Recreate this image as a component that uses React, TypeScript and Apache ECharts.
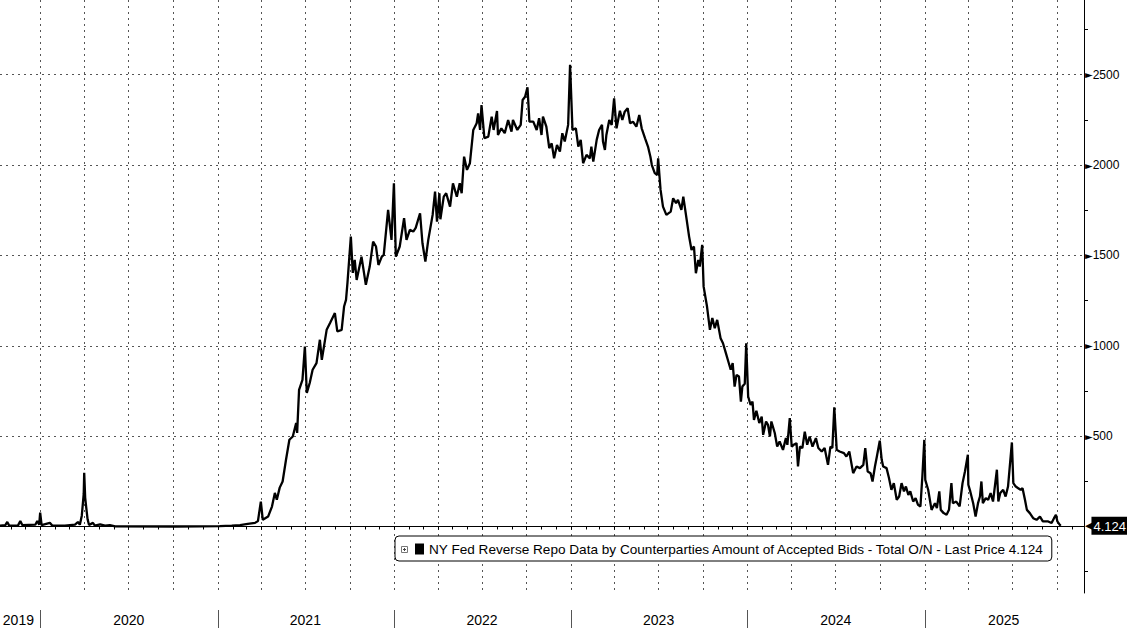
import React, { useEffect, useRef } from "react";
import * as echarts from "echarts";

const SERIES_NAME =
  "NY Fed Reverse Repo Data by Counterparties Amount of Accepted Bids - Total O/N - Last Price 4.124";
const LAST_PRICE = 4.124;

const rrpDates: string[] = [
  "2019-10-09","2019-10-20","2019-10-24","2019-10-28","2019-11-15","2019-11-20","2019-11-24","2019-12-21","2019-12-25","2019-12-29","2019-12-31",
  "2020-01-03","2020-01-20","2020-01-25","2020-02-20","2020-03-12","2020-03-18","2020-03-22","2020-03-26","2020-03-30","2020-03-31",
  "2020-04-02","2020-04-04","2020-04-07","2020-04-10","2020-04-18","2020-04-22","2020-05-03","2020-05-13","2020-05-23","2020-06-03",
  "2020-10-05","2020-11-25","2021-01-05","2021-01-30","2021-02-16","2021-03-04","2021-03-19","2021-03-25","2021-03-31",
  "2021-04-04","2021-04-15","2021-04-23","2021-04-29","2021-05-03","2021-05-09","2021-05-15","2021-05-22","2021-05-29",
  "2021-06-05","2021-06-12","2021-06-14","2021-06-18","2021-06-25","2021-06-30","2021-07-04","2021-07-10","2021-07-16","2021-07-24","2021-07-31",
  "2021-08-04","2021-08-14","2021-08-21","2021-08-31","2021-09-05","2021-09-14","2021-09-19","2021-09-23","2021-09-26",
  "2021-10-03","2021-10-07","2021-10-11","2021-10-15","2021-10-25","2021-11-03","2021-11-11","2021-11-18","2021-11-24","2021-11-29",
  "2021-12-06","2021-12-10","2021-12-19","2021-12-26","2021-12-31",
  "2022-01-04","2022-01-12","2022-01-21","2022-01-26","2022-02-02","2022-02-09","2022-02-14","2022-02-23","2022-02-28",
  "2022-03-06","2022-03-12","2022-03-21","2022-03-26","2022-03-30","2022-04-04","2022-04-06","2022-04-13","2022-04-18","2022-04-26",
  "2022-05-02","2022-05-10","2022-05-16","2022-05-20","2022-05-25","2022-05-31","2022-06-06","2022-06-13","2022-06-20","2022-06-23","2022-06-27","2022-06-30",
  "2022-07-06","2022-07-14","2022-07-21","2022-07-25","2022-08-01","2022-08-03","2022-08-10","2022-08-17","2022-08-24","2022-08-31",
  "2022-09-03","2022-09-12","2022-09-19","2022-09-23","2022-09-28","2022-10-03","2022-10-07","2022-10-15","2022-10-22","2022-10-27",
  "2022-11-01","2022-11-04","2022-11-11","2022-11-17","2022-11-22","2022-11-27","2022-12-03","2022-12-09","2022-12-14","2022-12-19","2022-12-26","2022-12-30",
  "2023-01-04","2023-01-11","2023-01-16","2023-01-21","2023-01-26","2023-02-02","2023-02-09","2023-02-12","2023-02-16","2023-02-23","2023-02-28",
  "2023-03-06","2023-03-08","2023-03-12","2023-03-15","2023-03-21","2023-03-26","2023-03-31","2023-04-05","2023-04-12","2023-04-17","2023-04-22","2023-04-28",
  "2023-05-03","2023-05-09","2023-05-16","2023-05-22","2023-05-27","2023-06-03","2023-06-09","2023-06-14","2023-06-17","2023-06-23","2023-06-28","2023-06-30",
  "2023-07-05","2023-07-10","2023-07-17","2023-07-26","2023-07-31","2023-08-06","2023-08-10","2023-08-17","2023-08-21","2023-08-28",
  "2023-09-02","2023-09-07","2023-09-12","2023-09-16","2023-09-21","2023-09-24","2023-09-29","2023-10-02","2023-10-09","2023-10-15","2023-10-20","2023-10-25","2023-10-30",
  "2023-11-06","2023-11-11","2023-11-17","2023-11-22","2023-11-27","2023-12-01","2023-12-05","2023-12-09","2023-12-14","2023-12-18","2023-12-21","2023-12-26","2023-12-29",
  "2024-01-02","2024-01-07","2024-01-11","2024-01-14","2024-01-19","2024-01-25","2024-01-30","2024-02-02","2024-02-08","2024-02-12","2024-02-16","2024-02-19","2024-02-26",
  "2024-03-02","2024-03-07","2024-03-14","2024-03-20","2024-03-23","2024-03-28","2024-04-01","2024-04-05","2024-04-11","2024-04-14","2024-04-18","2024-04-23","2024-04-28",
  "2024-05-03","2024-05-08","2024-05-14","2024-05-21","2024-05-26","2024-06-02","2024-06-08","2024-06-15","2024-06-20","2024-06-24","2024-06-28",
  "2024-07-03","2024-07-09","2024-07-18","2024-07-23","2024-07-29","2024-08-06","2024-08-13","2024-08-20","2024-08-27","2024-08-31",
  "2024-09-05","2024-09-11","2024-09-15","2024-09-20","2024-09-24","2024-09-30","2024-10-04","2024-10-07","2024-10-14","2024-10-19","2024-10-24","2024-10-29",
  "2024-11-04","2024-11-09","2024-11-14","2024-11-19","2024-11-23","2024-11-28","2024-12-02","2024-12-08","2024-12-13","2024-12-18","2024-12-23","2024-12-27","2024-12-31",
  "2025-01-02","2025-01-08","2025-01-15","2025-01-22","2025-01-26","2025-01-31","2025-02-03","2025-02-09","2025-02-15","2025-02-20","2025-02-25","2025-02-28",
  "2025-03-07","2025-03-14","2025-03-20","2025-03-25","2025-03-31","2025-04-01","2025-04-05","2025-04-11","2025-04-16","2025-04-21","2025-04-25","2025-04-28",
  "2025-05-01","2025-05-07","2025-05-12","2025-05-17","2025-05-22","2025-05-30","2025-06-02","2025-06-06","2025-06-12","2025-06-17","2025-06-22","2025-06-30",
  "2025-07-03","2025-07-08","2025-07-13","2025-07-18","2025-07-22","2025-07-27","2025-07-31","2025-08-06","2025-08-13","2025-08-20","2025-08-27",
  "2025-09-02","2025-09-13","2025-09-20","2025-09-25","2025-09-29","2025-10-02","2025-10-07","2025-10-09",
];

const rrpValues: number[] = [
  5,8,25,5,5,30,8,10,30,10,77,
  8,20,5,5,10,25,10,60,180,297,
  160,110,40,8,20,5,12,5,8,1,
  0,1,2,5,8,15,20,30,138,
  37,55,110,186,148,215,249,369,480,
  498,573,518,756,811,996,739,794,867,904,1033,
  922,1088,1126,1181,1079,1088,1217,1254,1348,
  1604,1403,1475,1364,1493,1337,1438,1576,1549,1447,
  1493,1503,1752,1586,1899,
  1493,1549,1706,1586,1641,1632,1652,1733,1567,
  1466,1586,1724,1853,1687,1844,1700,1825,1844,1770,
  1899,1825,1899,1844,2046,1973,2010,2194,2231,2286,2194,2332,
  2148,2157,2268,2194,2299,2166,2203,2176,2249,2185,
  2249,2194,2222,2360,2378,2430,2240,2240,2194,2259,
  2166,2268,2212,2093,2120,2037,2111,2074,2176,2130,2222,2554,
  2194,2203,2102,2139,2010,2056,2037,2102,2019,2139,2194,
  2222,2130,2083,2166,2249,2222,2369,2203,2300,2249,2295,2314,
  2231,2240,2212,2277,2203,2148,2102,2046,2000,1955,1945,2037,
  1862,1770,1724,1742,1816,1789,1807,1752,1825,1696,
  1604,1530,1549,1401,1475,1438,1558,1327,1217,1088,1153,1097,1143,
  1042,1014,959,913,867,904,774,839,830,691,774,790,1014,
  719,673,691,590,640,572,608,507,581,562,498,581,517,
  442,470,424,489,452,600,442,452,461,332,442,434,525,
  452,498,442,489,434,415,434,341,442,434,660,
  424,415,406,387,415,295,332,323,341,434,
  304,295,249,332,387,475,369,332,323,268,203,240,
  148,166,240,194,221,175,194,138,157,120,111,277,479,
  258,203,92,129,102,194,92,74,65,92,240,129,
  138,111,240,304,397,231,194,129,55,129,166,249,
  129,157,148,185,138,314,138,185,203,166,221,465,
  240,221,212,203,212,148,92,74,46,37,55,
  28,28,19,46,65,28,9,4.124,
];

const X_MIN = "2019-10-09";
const X_MAX = "2025-11-26";
const Y_MIN = -368;
const Y_MAX = 2913;

const yGridValues = [0, 500, 1000, 1500, 2000, 2500];
const yLabelValues = [500, 1000, 1500, 2000, 2500];
const yMinorValues = [-250, 250, 750, 1250, 1750, 2250, 2750];

const yearStarts = ["2020-01-01", "2021-01-01", "2022-01-01", "2023-01-01", "2024-01-01", "2025-01-01"];
const yearLabelDates = ["2019-11-16", "2020-07-01", "2021-07-01", "2022-07-01", "2023-07-01", "2024-07-01", "2025-06-13"];

const ts = (s: string) => Date.parse(s + "T00:00:00Z");
const pad = (n: number) => (n < 10 ? "0" + n : "" + n);
const monthStarts: string[] = [];
const quarterStarts: string[] = [];
for (let y = 2019; y <= 2025; y++) {
  for (let m = 1; m <= 12; m++) {
    const s = `${y}-${pad(m)}-01`;
    if (s < X_MIN || s > X_MAX) continue;
    monthStarts.push(s);
    if ((m - 1) % 3 === 0) quarterStarts.push(s);
  }
}

const TEXTFONT = "'Liberation Sans', Arial, sans-serif";
const GRID_LINE = { type: [2, 4] as any, color: "#555", width: 1 };

export default function App() {
  const ref = useRef<HTMLDivElement>(null);
  useEffect(() => {
    if (!ref.current) return;
    const chart = echarts.init(ref.current, null, { renderer: "svg" });
    const data = rrpDates.map((d, i) => [ts(d), rrpValues[i]]);
    const xMin = ts(X_MIN);
    const xMax = ts(X_MAX);
    const baseX = { type: "value", min: xMin, max: xMax, position: "bottom", scale: true };
    chart.setOption({
      animation: false,
      backgroundColor: "#fff",
      grid: { left: 0, right: 43, top: 0, bottom: 35, containLabel: false, outerBoundsMode: "none" },
      legend: {
        show: true,
        left: 395,
        top: 536,
        padding: [6, 7, 5, 20],
        backgroundColor: "#fff",
        borderColor: "#000",
        borderWidth: 1,
        borderRadius: 4,
        itemWidth: 9,
        itemHeight: 11,
        selectedMode: false,
        z: 5,
        data: [{ name: SERIES_NAME, icon: "rect" }],
        textStyle: { fontFamily: TEXTFONT, fontSize: 13.6, color: "#000" },
      },
      graphic: [
        { type: "rect", z: 200, shape: { x: 401.5, y: 546.5, width: 6, height: 6 }, style: { fill: "#fff", stroke: "#777", lineWidth: 1 } },
        { type: "line", z: 201, shape: { x1: 403, y1: 549.5, x2: 406, y2: 549.5 }, style: { stroke: "#444", lineWidth: 1 } },
        { type: "line", z: 201, shape: { x1: 404.5, y1: 548, x2: 404.5, y2: 551 }, style: { stroke: "#444", lineWidth: 1 } },
      ],
      xAxis: [
        {
          ...baseX,
          axisLine: { show: true, lineStyle: { color: "#000", width: 1 } },
          axisTick: { show: true, customValues: quarterStarts.map(ts), length: 3, lineStyle: { color: "#000" } },
          axisLabel: { show: false },
          splitLine: { show: true, lineStyle: GRID_LINE },
        },
        {
          ...baseX,
          axisLine: { show: false },
          axisTick: { show: true, customValues: monthStarts.map(ts), length: 3, lineStyle: { color: "#000" } },
          axisLabel: { show: false },
          splitLine: { show: false },
        },
        {
          ...baseX,
          offset: 17,
          axisLine: { show: false },
          axisTick: { show: true, customValues: yearStarts.map(ts), length: 18, lineStyle: { color: "#555" } },
          axisLabel: {
            show: true,
            customValues: yearLabelDates.map(ts),
            margin: 3,
            fontFamily: TEXTFONT,
            fontSize: 14,
            color: "#000",
            formatter: (v: number) => String(new Date(v).getUTCFullYear()),
          },
          splitLine: { show: false },
        },
      ],
      yAxis: [
        {
          type: "value",
          position: "right",
          min: Y_MIN,
          max: Y_MAX,
          axisLine: { show: true, lineStyle: { color: "#000", width: 1 } },
          axisTick: { show: false, customValues: yGridValues },
          splitLine: { show: true, lineStyle: GRID_LINE },
          axisLabel: {
            show: true,
            customValues: yLabelValues,
            margin: 1,
            formatter: (v: number) => `{t|►}{v|${v}}`,
            rich: {
              t: { fontSize: 10, color: "#000", fontFamily: "DejaVu Sans" },
              v: { fontSize: 12, color: "#000", fontFamily: TEXTFONT },
            },
          },
        },
        {
          type: "value",
          position: "right",
          min: Y_MIN,
          max: Y_MAX,
          axisLine: { show: false },
          axisTick: { show: true, customValues: yMinorValues, length: 4, lineStyle: { color: "#000" } },
          axisLabel: { show: false },
          splitLine: { show: false },
        },
      ],
      series: [
        {
          name: SERIES_NAME,
          type: "line",
          xAxisIndex: 0,
          yAxisIndex: 0,
          data,
          showSymbol: false,
          symbol: "none",
          itemStyle: { color: "#000" },
          lineStyle: { color: "#000", width: 2.3 },
          markLine: {
            silent: true,
            symbol: "none",
            lineStyle: { color: "rgba(0,0,0,0)", width: 1, type: "solid" },
            data: [{ yAxis: LAST_PRICE }],
            label: {
              show: true,
              position: "end",
              distance: 1,
              formatter: `{a|◀}{b|${LAST_PRICE}}`,
              rich: {
                a: { color: "#000", fontSize: 11, fontFamily: "DejaVu Sans", padding: [0, -2, 0, 0] },
                b: {
                  color: "#fff",
                  backgroundColor: "#000",
                  fontSize: 13,
                  fontFamily: TEXTFONT,
                  padding: [3, 4, 2, 2],
                },
              },
            },
          },
        },
      ],
    });
    return () => chart.dispose();
  }, []);
  return <div ref={ref} style={{ position: "absolute", left: 0, top: 0, width: 1127, height: 628 }} />;
}
